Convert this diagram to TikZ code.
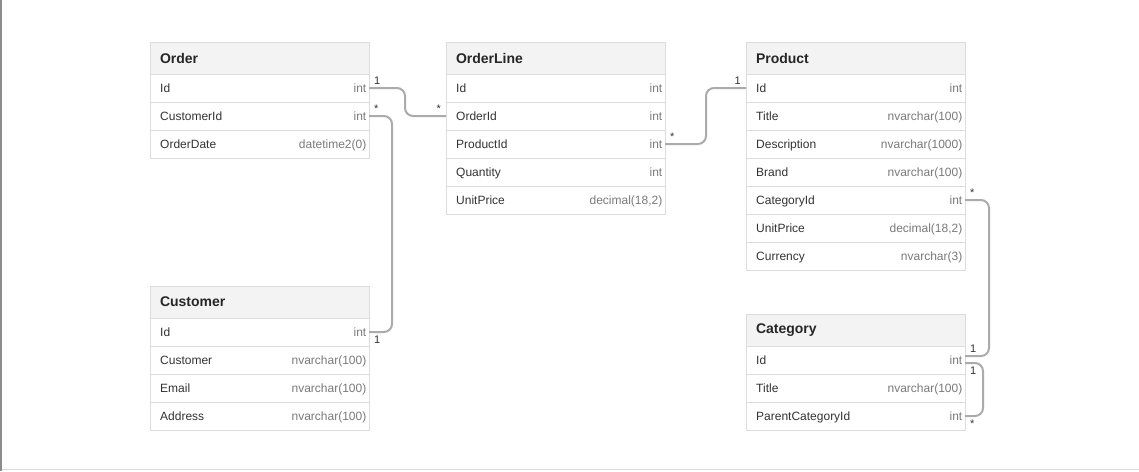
\documentclass[tikz,border=0pt]{standalone}
\usepackage{fontspec}
\setmainfont{Liberation Sans}
\usepackage{tikz}
\usetikzlibrary{positioning}
\definecolor{erborder}{HTML}{DDDDDD}
\definecolor{erhead}{HTML}{F3F3F3}
\definecolor{ername}{HTML}{333333}
\definecolor{ertype}{HTML}{7A7A7A}
\definecolor{erlink}{HTML}{ABABAB}

% one row of a table: name, node above, field, type
\newcommand{\erfield}[4]{%
  \node[fieldrow,below=0pt of #2] (#1) {};
  \node[fieldname,anchor=base west] (#1-n) at ([xshift=10pt,yshift=-4.5pt]#1.west) {#3};
  \node[fieldtype,anchor=base east] (#1-t) at ([xshift=-2.5pt,yshift=-4.5pt]#1.east) {#4};}

\begin{document}
\begin{tikzpicture}[x=1pt,y=-1pt,
    tblhead/.style={rectangle,draw=erborder,fill=erhead,anchor=north west,
                    text width=199pt,inner xsep=10pt,inner ysep=0pt,
                    minimum height=32pt,outer sep=0pt,align=left,
                    text=black!85,font=\fontsize{14}{16}\selectfont\bfseries},
    fieldrow/.style={rectangle,draw=erborder,fill=white,minimum width=219pt,
                     minimum height=28pt,inner sep=0pt,outer sep=0pt},
    fieldname/.style={inner sep=0pt,text=ername,font=\fontsize{12}{14}\selectfont},
    fieldtype/.style={inner sep=0pt,text=ertype,font=\fontsize{12}{14}\selectfont},
    link/.style={draw=erlink,line width=2pt,rounded corners=8pt},
    mult/.style={inner sep=0pt,text=ername,font=\fontsize{11}{13}\selectfont}]
  \useasboundingbox (0,0) rectangle (1139,471);
  \fill[white] (0,0) rectangle (1139,471);
  \draw[black!45,line width=2pt] (1,0) -- (1,471);
  \draw[black!15,line width=1pt] (2,469.5) -- (1139,469.5);

  % Order
  \node[tblhead] (order) at (150,42) {Order};
  \erfield{order-id}{order}{Id}{int}
  \erfield{order-customerid}{order-id}{CustomerId}{int}
  \erfield{order-orderdate}{order-customerid}{OrderDate}{datetime2(0)}

  % OrderLine
  \node[tblhead] (orderline) at (446,42) {OrderLine};
  \erfield{orderline-id}{orderline}{Id}{int}
  \erfield{orderline-orderid}{orderline-id}{OrderId}{int}
  \erfield{orderline-productid}{orderline-orderid}{ProductId}{int}
  \erfield{orderline-quantity}{orderline-productid}{Quantity}{int}
  \erfield{orderline-unitprice}{orderline-quantity}{UnitPrice}{decimal(18,2)}

  % Product
  \node[tblhead] (product) at (746,42) {Product};
  \erfield{product-id}{product}{Id}{int}
  \erfield{product-title}{product-id}{Title}{nvarchar(100)}
  \erfield{product-description}{product-title}{Description}{nvarchar(1000)}
  \erfield{product-brand}{product-description}{Brand}{nvarchar(100)}
  \erfield{product-categoryid}{product-brand}{CategoryId}{int}
  \erfield{product-unitprice}{product-categoryid}{UnitPrice}{decimal(18,2)}
  \erfield{product-currency}{product-unitprice}{Currency}{nvarchar(3)}

  % Customer
  \node[tblhead] (customer) at (150,286) {Customer};
  \erfield{customer-id}{customer}{Id}{int}
  \erfield{customer-customer}{customer-id}{Customer}{nvarchar(100)}
  \erfield{customer-email}{customer-customer}{Email}{nvarchar(100)}
  \erfield{customer-address}{customer-email}{Address}{nvarchar(100)}

  % Category
  \node[tblhead] (category) at (746,314) {Category};
  \erfield{category-id}{category}{Id}{int}
  \erfield{category-title}{category-id}{Title}{nvarchar(100)}
  \erfield{category-parentcategoryid}{category-title}{ParentCategoryId}{int}

  % relations
  \draw[link] (order-id.east) -- ++(36,0) |- (orderline-orderid.west);
  \draw[link] (order-customerid.east) -- ++(23,0) |- (customer-id.east);
  \draw[link] (orderline-productid.east) -- ++(41,0) |- (product-id.west);
  \draw[link] (product-categoryid.east) -- ++(24,0) |- ([yshift=4pt]category-id.east);
  \draw[link] ([yshift=-3pt]category-id.east) -- ++(18,0) |- (category-parentcategoryid.east);

  % multiplicities
  \node[mult,anchor=south west] (m1) at ([xshift=5pt,yshift=3pt]order-id.east) {1};
  \node[mult,anchor=south east] (m2) at ([xshift=-5pt,yshift=3pt]orderline-orderid.west) {*};
  \node[mult,anchor=south west] (m3) at ([xshift=5pt,yshift=3pt]order-customerid.east) {*};
  \node[mult,anchor=north west] (m4) at ([xshift=5pt,yshift=-4pt]customer-id.east) {1};
  \node[mult,anchor=south west] (m5) at ([xshift=5pt,yshift=3pt]orderline-productid.east) {*};
  \node[mult,anchor=south east] (m6) at ([xshift=-5pt,yshift=3pt]product-id.west) {1};
  \node[mult,anchor=south west] (m7) at ([xshift=5pt,yshift=3pt]product-categoryid.east) {*};
  \node[mult,anchor=south west] (m8) at ([xshift=5pt,yshift=7pt]category-id.east) {1};
  \node[mult,anchor=north west] (m9) at ([xshift=5pt,yshift=-7pt]category-id.east) {1};
  \node[mult,anchor=north west] (m10) at ([xshift=5pt,yshift=-4pt]category-parentcategoryid.east) {*};
\end{tikzpicture}
\end{document}
